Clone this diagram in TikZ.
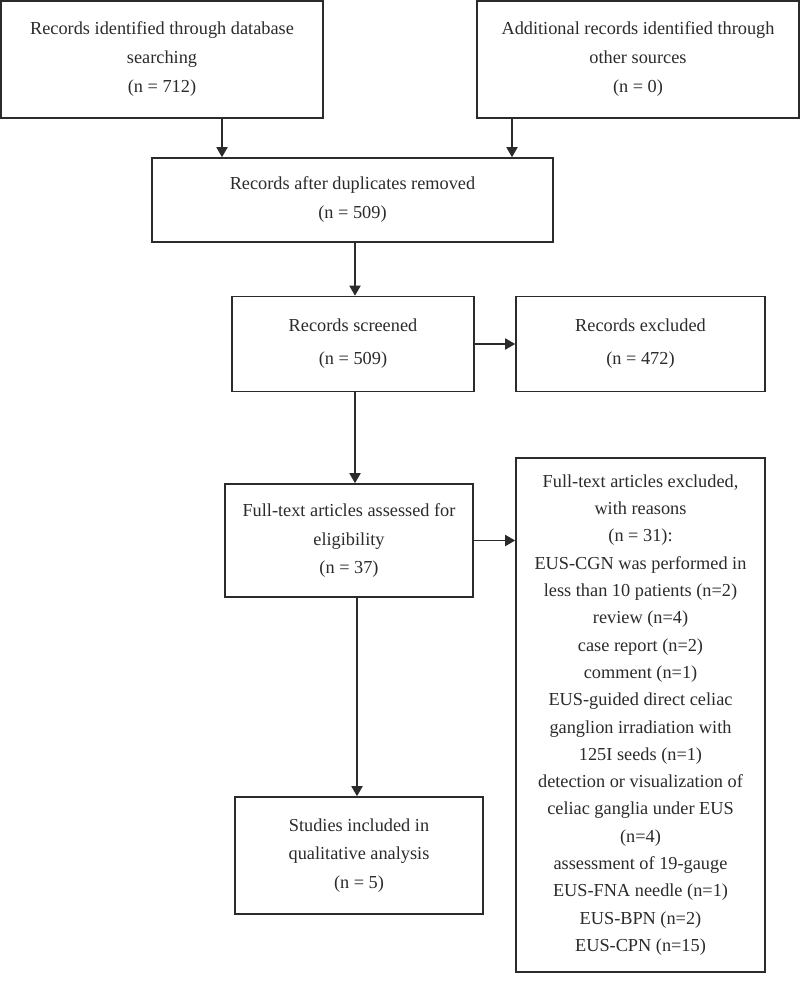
\documentclass[tikz,border=0pt]{standalone}
\usepackage{fontspec}
\setmainfont{Liberation Serif}
\usetikzlibrary{arrows.meta}
\definecolor{ink}{HTML}{2B2B2B}
\begin{document}
\begin{tikzpicture}[x=1pt,y=-1pt,
  box/.style={draw=ink, line width=1.6pt, text=ink, align=center, inner sep=0pt, rectangle},
  fA/.style={font=\fontsize{18.3}{29}\selectfont},
  fB/.style={font=\fontsize{18.3}{33}\selectfont},
  fC/.style={font=\fontsize{18.3}{28.7}\selectfont},
  fD/.style={font=\fontsize{18.3}{27.3}\selectfont},
  arr/.style={draw=ink, line width=1.8pt, -{Triangle[length=10pt,width=11pt]}}]
\useasboundingbox (0,0) rectangle (800,1004);
\fill[white] (0,0) rectangle (800,1004);

\node[box, fA, minimum width=322pt, minimum height=117pt] (b1) at (162,59.5)
  {Records identified through database\\searching\\(n = 712)};
\node[box, fA, minimum width=322pt, minimum height=117pt] (b2) at (638,59.5)
  {Additional records identified through\\other sources\\(n = 0)};
\node[box, fA, minimum width=401pt, minimum height=84pt] (b3) at (352.5,200)
  {Records after duplicates removed\\(n = 509)};
\node[box, fB, minimum width=242pt, minimum height=95pt] (b4) at (353,344)
  {Records screened\\(n = 509)};
\node[box, fB, minimum width=249pt, minimum height=95pt] (b5) at (640.5,344)
  {Records excluded\\(n = 472)};
\node[box, fC, minimum width=248pt, minimum height=113pt] (b7) at (349,540.5)
  {Full-text articles assessed for\\eligibility\\(n = 37)};
\node[box, fD, minimum width=249pt, minimum height=514pt] (b6) at (640.5,715)
  {Full-text articles excluded,\\with reasons\\(n = 31):\\EUS-CGN was performed in\\less than 10 patients (n=2)\\review (n=4)\\case report (n=2)\\comment (n=1)\\EUS-guided direct celiac\\ganglion irradiation with\\125I seeds (n=1)\\detection or visualization of\\celiac ganglia under EUS\\(n=4)\\assessment of 19-gauge\\EUS-FNA needle (n=1)\\EUS-BPN (n=2)\\EUS-CPN (n=15)};
\node[box, fC, minimum width=248pt, minimum height=117pt] (b8) at (359,855.5)
  {Studies included in\\qualitative analysis\\(n = 5)};

\coordinate (c1) at (222,0);
\coordinate (c2) at (512,0);
\coordinate (c3) at (355,0);
\coordinate (c4) at (357,0);

\draw[arr] (b1.south -| c1) -- (b3.north -| c1);
\draw[arr] (b2.south -| c2) -- (b3.north -| c2);
\draw[arr] (b3.south -| c3) -- (b4.north -| c3);
\draw[arr] (b4.east) -- (b5.west);
\draw[arr] (b4.south -| c3) -- (b7.north -| c3);
\draw[arr] (b7.east) -- (b7.east -| b6.west);
\draw[arr] (b7.south -| c4) -- (b8.north -| c4);
\end{tikzpicture}
\end{document}
